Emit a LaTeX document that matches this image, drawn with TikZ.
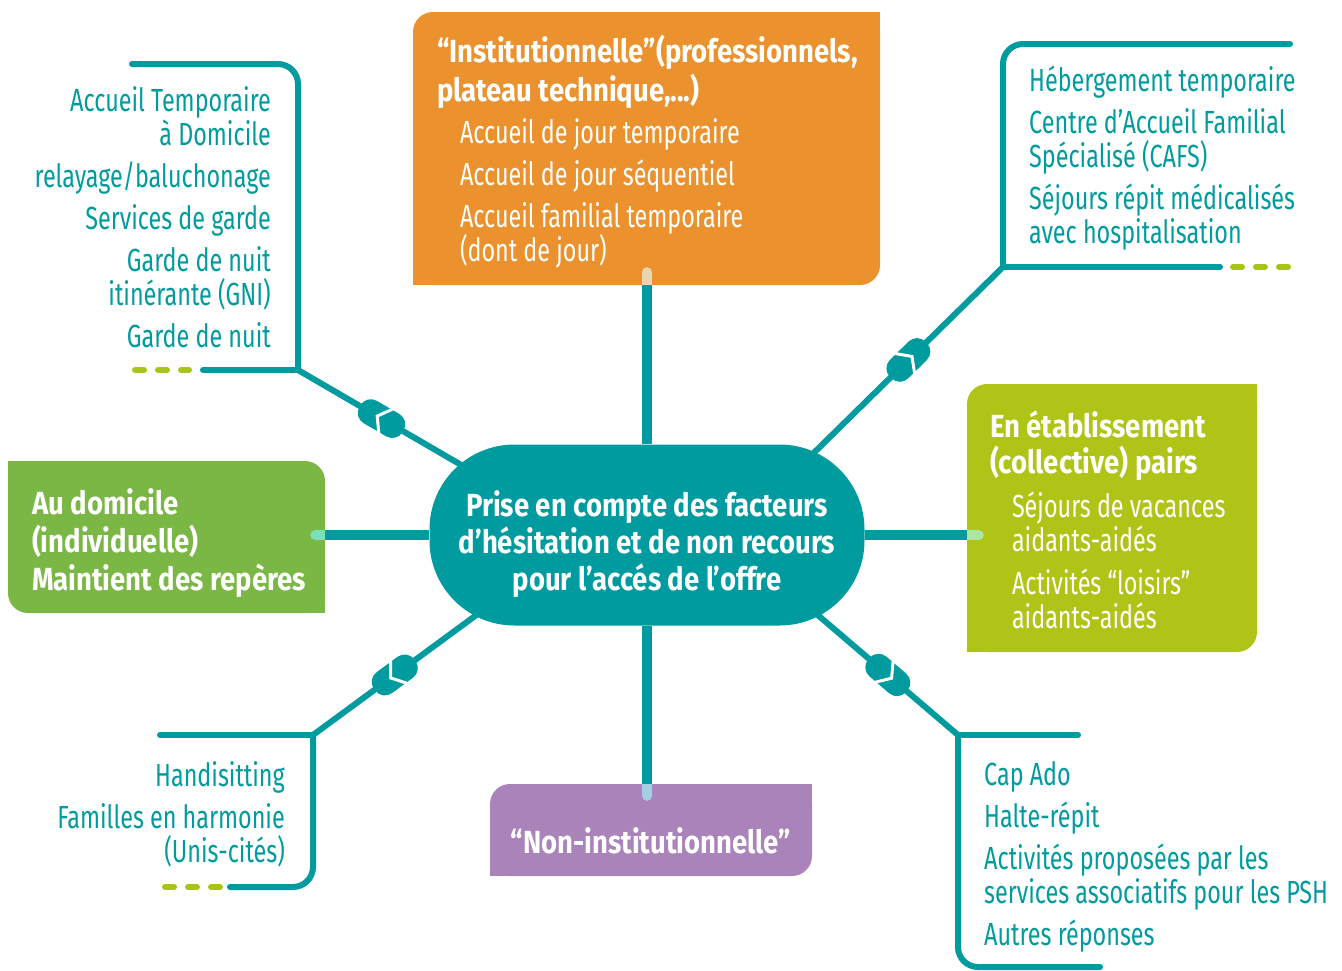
\documentclass[tikz,border=0pt]{standalone}
\usepackage{fontspec}
\setmainfont{Fira Sans}[FakeStretch=0.73, BoldFeatures={FakeStretch=0.86}]
\usetikzlibrary{backgrounds, arrows.meta}

\definecolor{hubteal}{RGB}{0,155,158}
\definecolor{instorange}{RGB}{235,145,45}
\definecolor{homegreen}{RGB}{122,183,69}
\definecolor{establime}{RGB}{175,196,22}
\definecolor{noninpurple}{RGB}{169,131,185}
\definecolor{dashlime}{RGB}{170,195,25}
\definecolor{tipbeige}{RGB}{234,212,178}
\definecolor{tipmint}{RGB}{120,225,185}
\definecolor{tiplight}{RGB}{170,230,165}
\definecolor{tipblue}{RGB}{165,205,228}

\tikzset{
  coupler/.pic={
    \fill[hubteal, rounded corners=12pt] (-25,-13) rectangle (25,13);
    \draw[white, line width=3pt] (-5,-14) -- (5,0) -- (-5,14);
  }
}

\begin{document}
\begin{tikzpicture}[x=1pt, y=-1pt,
  box/.style={rounded corners=20pt, inner xsep=24pt, inner ysep=0pt, text=white, align=flush left, font=\fontsize{32}{34}\selectfont},
  hubbox/.style={rounded corners=85pt, fill=hubteal, text=white, align=center, minimum width=435pt, minimum height=181pt, font=\fontsize{32}{37}\selectfont\bfseries},
  leaflist/.style={text=hubteal, inner sep=0pt, font=\fontsize{32}{34}\selectfont},
  spoke/.style={draw=hubteal, line width=10pt},
  tip/.style={line width=10pt, -{Round Cap[]}},
  link/.style={draw=hubteal, line width=6pt},
  bracket/.style={draw=hubteal, line width=6pt, line cap=round},
  dashbit/.style={draw=dashlime, line width=6pt, line cap=round, dash pattern=on 9pt off 14pt}
]
\useasboundingbox (0,0) rectangle (1342,970);

% Central node
\node[hubbox] (hub) at (647,535) {\rule{0pt}{44pt}Prise en compte des facteurs\\ d’hésitation et de non recours\\ pour l’accés de l’offre};

% Coloured boxes
\node[box, fill=instorange, minimum width=467pt, minimum height=273pt, text width=419pt] (inst) at (646.5,148.5)
  {\rule{0pt}{34pt}\textbf{“Institutionnelle”(professionnels,}\\[4pt]\textbf{plateau technique,...)}\\[8pt]
   \hspace*{23pt}Accueil de jour temporaire\\[8pt]\hspace*{23pt}Accueil de jour séquentiel\\[8pt]
   \hspace*{23pt}Accueil familial temporaire\\\hspace*{23pt}(dont de jour)};
\node[box, fill=homegreen, minimum width=317pt, minimum height=152pt, text width=269pt] (home) at (166.5,537)
  {\rule{0pt}{38pt}\textbf{Au domicile}\\[4pt]\textbf{(individuelle)}\\[4pt]\mbox{\textbf{Maintient des repères}}};
\node[box, fill=establime, minimum width=290pt, minimum height=268pt, text width=244pt, inner xsep=23pt] (estab) at (1112,518)
  {\rule{0pt}{30pt}\textbf{En établissement}\\[2pt]\textbf{(collective) pairs}\\[10pt]
   \hspace*{22pt}\mbox{Séjours de vacances}\\\hspace*{22pt}aidants-aidés\\[9pt]
   \hspace*{22pt}Activités “loisirs”\\\hspace*{22pt}aidants-aidés};
\node[box, fill=noninpurple, minimum width=322pt, minimum height=92pt, inner xsep=10pt, align=center, text height=46pt, text depth=0pt] (nonin) at (651,830)
  {\textbf{“Non-institutionnelle”}};

% Lists beside the brackets
\node[leaflist, anchor=north east, align=right] (homelist) at (271,86)
  {Accueil Temporaire\\ à Domicile\\[8pt] relayage/baluchonage\\[8pt] Services de garde\\[8pt]
   Garde de nuit\\ itinérante (GNI)\\[8pt] Garde de nuit};
\node[leaflist, anchor=north west, align=left] (staylist) at (1029,66)
  {Hébergement temporaire\\[8pt] Centre d’Accueil Familial\\ Spécialisé (CAFS)\\[8pt]
   Séjours répit médicalisés\\ avec hospitalisation};
\node[leaflist, anchor=north east, align=right] (sitlist) at (285,761)
  {Handisitting\\[8pt] Familles en harmonie\\ (Unis-cités)};
\node[leaflist, anchor=north west, align=left] (offerlist) at (984,761)
  {Cap Ado\\[8pt] Halte-répit\\[8pt] Activités proposées par les\\ services associatifs pour les PSH\\[8pt] Autres réponses};

% Bracket corners and link starts
\coordinate (tlc) at (298,370);
\coordinate (trc) at (1003,267);
\coordinate (blc) at (313,735);
\coordinate (brc) at (958,735);
\coordinate (ulin) at (530,505);
\coordinate (urin) at (775,491);
\coordinate (llin) at (520,583);
\coordinate (lrin) at (778,581);

\begin{scope}[on background layer]
  % sharp corners of the boxes
  \fill[instorange] (inst.north east) rectangle ++(-24,24);
  \fill[instorange] (inst.south west) rectangle ++(24,-24);
  \fill[homegreen] (home.north west) rectangle ++(24,24);
  \fill[homegreen] (home.south east) rectangle ++(-24,-24);
  \fill[establime] (estab.north east) rectangle ++(-24,24);
  \fill[establime] (estab.south west) rectangle ++(24,-24);
  \fill[noninpurple] (nonin.north east) rectangle ++(-24,24);
  \fill[noninpurple] (nonin.south west) rectangle ++(24,-24);

  % straight spokes
  \draw[spoke] (hub.north) -- (inst.south -| hub.north);
  \draw[spoke] (hub.south) -- (hub.south |- nonin.north);
  \draw[spoke] (hub.west) -- (hub.west -| home.east);
  \draw[spoke] (hub.east) -- (hub.east -| estab.west);

  % diagonal links with couplers
  \draw[link] (ulin) -- (tlc) pic[pos=0.64, sloped, allow upside down]{coupler};
  \draw[link] (urin) -- (trc) pic[pos=0.585, sloped, allow upside down]{coupler};
  \draw[link] (llin) -- (blc) pic[pos=0.605, sloped, allow upside down]{coupler};
  \draw[link] (lrin) -- (brc) pic[pos=0.61, sloped, allow upside down]{coupler};
\end{scope}

% tips inside the boxes
\draw[tip, draw=tipbeige] (inst.south -| hub.north) -- ++(0,-18);
\draw[tip, draw=tipmint] (hub.west -| home.east) -- ++(-15,0);
\draw[tip, draw=tiplight] (hub.east -| estab.west) -- ++(17,0);
\draw[tip, draw=tipblue] (hub.south |- nonin.north) -- ++(0,17);

% Brackets
\draw[bracket, rounded corners=20pt] (tlc) |- (132,64);
\draw[bracket] (tlc) -- (203,370);
\draw[dashbit] (135,370) -- (189,370);

\draw[bracket, rounded corners=20pt] (trc) |- (1290,44);
\draw[bracket] (trc) -- (1220,267);
\draw[dashbit] (1233,267) -- (1289,267);

\draw[bracket] (blc) -- (160,735);
\draw[bracket, rounded corners=20pt] (blc) |- (230,887);
\draw[dashbit] (165,887) -- (220,887);

\draw[bracket] (brc) -- (1078,735);
\draw[bracket, rounded corners=20pt] (brc) |- (1100,967);

\end{tikzpicture}
\end{document}
